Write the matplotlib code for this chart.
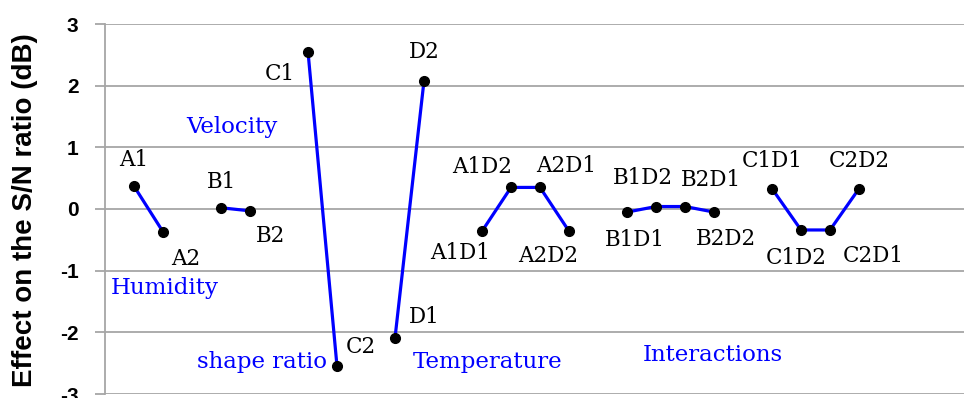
import matplotlib.pyplot as plt

# factor levels and their S/N effects (dB)
groups = [
    (["A1", "A2"], [0.37, -0.37]),
    (["B1", "B2"], [0.02, -0.03]),
    (["C1", "C2"], [2.55, -2.55]),
    (["D1", "D2"], [-2.09, 2.08]),
    (["A1D1", "A1D2", "A2D1", "A2D2"], [-0.36, 0.35, 0.35, -0.36]),
    (["B1D1", "B1D2", "B2D1", "B2D2"], [-0.05, 0.04, 0.04, -0.05]),
    (["C1D1", "C1D2", "C2D1", "C2D2"], [0.33, -0.34, -0.34, 0.33]),
]
group_start = [0, 3, 6, 9, 12, 17, 22]

group_names = ["Humidity", "Velocity", "shape ratio", "Temperature", "Interactions"]
name_pos = [(1.05, -1.28), (3.38, 1.33), (4.4, -2.48), (12.2, -2.48), (19.97, -2.37)]

yticks = [-3, -2, -1, 0, 1, 2, 3]

# label offsets in pixels (dx, dy)
offsets = {
    "A1": (0, 26), "A2": (23, -27), "B1": (0, 26), "B2": (21, -25),
    "C1": (-28, -22), "C2": (24, 19), "D1": (29, 21), "D2": (0, 29),
    "A1D1": (-22, -22), "A1D2": (-29, 20), "A2D1": (26, 21), "A2D2": (-21, -25),
    "B1D1": (8, -28), "B1D2": (-13, 29), "B2D1": (26, 27), "B2D2": (12, -27),
    "C1D1": (0, 28), "C1D2": (-5, -28), "C2D1": (43, -26), "C2D2": (0, 28),
}

dpi = 100
fig = plt.figure(figsize=(9.64, 3.98), dpi=dpi)
ax = fig.add_axes([105 / 964, 4 / 398, 859 / 964, 370 / 398])

serif = "DejaVu Serif"
for (labels, vals), x0 in zip(groups, group_start):
    xs = list(range(x0, x0 + len(vals)))
    ax.plot(xs, vals, color="#0000ff", lw=2.3, zorder=3)
    ax.plot(xs, vals, "o", color="black", ms=7, zorder=4)
    for lab, x, y in zip(labels, xs, vals):
        dx, dy = offsets[lab]
        ax.annotate(lab, (x, y), xytext=(dx * 72 / dpi, dy * 72 / dpi),
                    textcoords="offset points", ha="center", va="center",
                    fontsize=15.5, family=serif, color="black")

for name, (x, y) in zip(group_names, name_pos):
    ax.text(x, y, name, ha="center", va="center", fontsize=16.5,
            family=serif, color="#0000ff")

ax.set_xlim(-1, 28.62)
ax.set_ylim(-3, 3)
ax.set_yticks(yticks)
ax.set_yticklabels([str(t) for t in yticks], fontsize=15,
                   fontweight="bold", family="Liberation Sans")
ax.set_xticks([])
ax.grid(axis="y", color="#a6a6a6", lw=1.3)
ax.tick_params(axis="y", length=7, width=1.3, color="#a6a6a6", pad=12)
for s in ["top", "right", "bottom"]:
    ax.spines[s].set_visible(False)
ax.spines["left"].set_color("#a6a6a6")
ax.spines["left"].set_linewidth(1.3)
ax.set_ylabel("Effect on the S/N ratio (dB)", fontsize=20, fontweight="bold",
              family="Liberation Sans")
ax.yaxis.set_label_coords(-67 / 859, 0.497)

fig.savefig("out.png", dpi=dpi)
